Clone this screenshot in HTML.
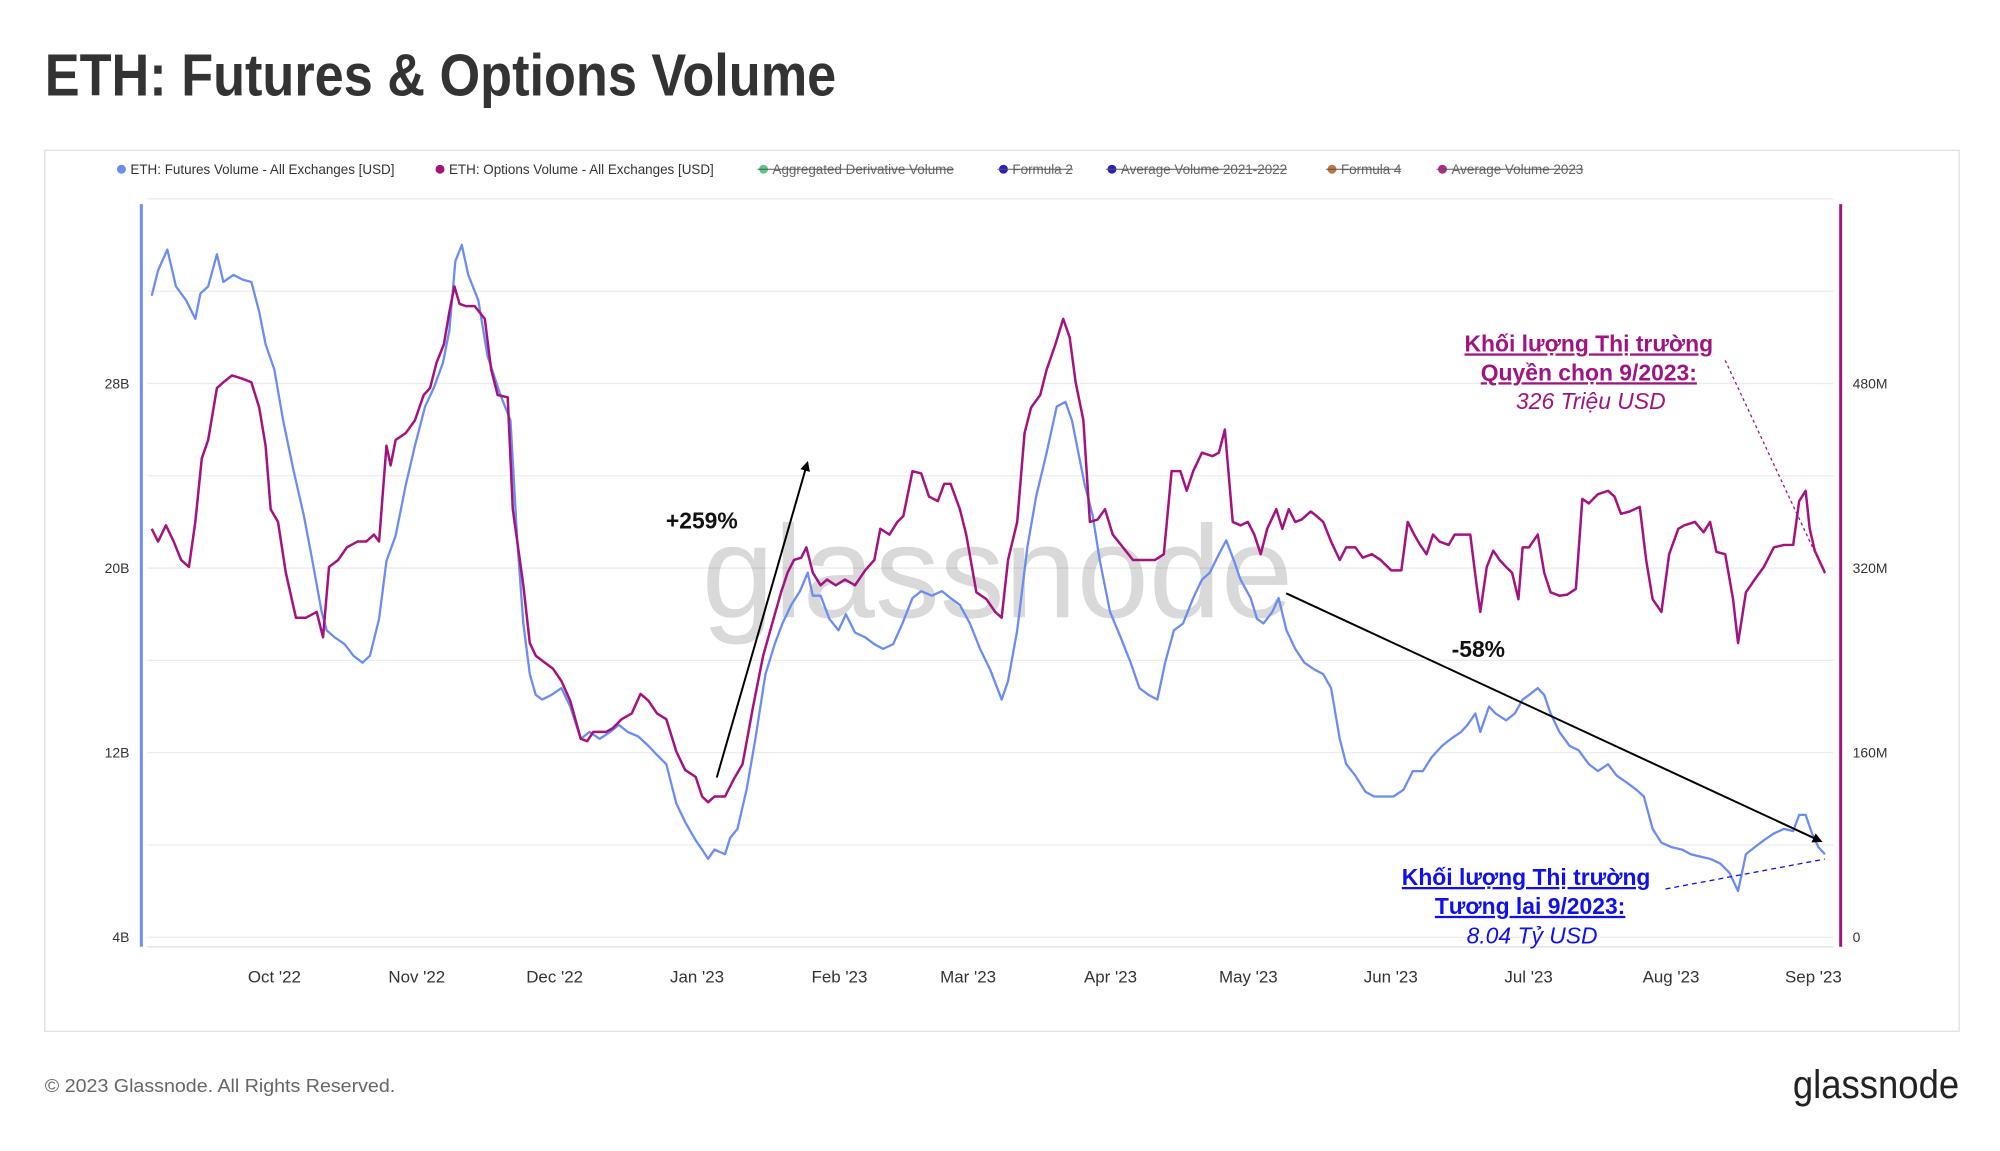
<!DOCTYPE html>
<html><head><meta charset="utf-8"><style>
html,body{margin:0;padding:0;background:#fff;}
svg{display:block;font-family:"Liberation Sans","Noto Sans CJK SC",sans-serif;}
</style></head><body>
<svg id="chart" width="2000" height="1151" viewBox="0 0 2000 1151" xmlns="http://www.w3.org/2000/svg">
<g transform="scale(0.9955)">
<text x="45" y="96" font-size="60" font-weight="bold" fill="#333" textLength="795" lengthAdjust="spacingAndGlyphs">ETH: Futures &amp; Options Volume</text>
<rect x="45" y="151" width="1923" height="885" fill="#fff" stroke="#e3e3e3" stroke-width="1.5"/>
<g id="legend" font-size="13.5" fill="#333"></g>
<g id="grid"></g>
<text x="705" y="620" font-size="132" fill="#000" fill-opacity="0.15" textLength="594" lengthAdjust="spacingAndGlyphs">glassnode</text>
<g id="axes"></g>
<g id="series"></g>
<g id="annot">
<defs><marker id="ah" markerWidth="10" markerHeight="10" refX="8" refY="5" orient="auto" markerUnits="userSpaceOnUse"><path d="M0,0 L10,5 L0,10 z" fill="#000"/></marker></defs>
<line x1="720" y1="781" x2="811" y2="465" stroke="#000" stroke-width="2" marker-end="url(#ah)"/>
<text x="705" y="531" font-size="23" font-weight="bold" text-anchor="middle" fill="#111">+259%</text>
<line x1="1292" y1="596" x2="1829" y2="845" stroke="#000" stroke-width="2" marker-end="url(#ah)"/>
<text x="1485" y="660" font-size="23" font-weight="bold" text-anchor="middle" fill="#111">-58%</text>
<line x1="1733" y1="362" x2="1833" y2="576" stroke="#a0147f" stroke-width="1.3" stroke-dasharray="3,3"/>
<g fill="#a0147f" font-size="23" text-anchor="middle">
<text x="1596" y="353" font-weight="bold" text-decoration="underline">Khối lượng Thị trường</text>
<text x="1596" y="382" font-weight="bold" text-decoration="underline">Quyền chọn 9/2023:</text>
<text x="1598" y="411" font-style="italic">326 Triệu USD</text>
</g>
<line x1="1673" y1="893" x2="1833" y2="863" stroke="#1010ee" stroke-width="1.3" stroke-dasharray="5,4"/>
<g fill="#1010ee" font-size="23" text-anchor="middle">
<text x="1533" y="889" font-weight="bold" text-decoration="underline">Khối lượng Thị trường</text>
<text x="1537" y="918" font-weight="bold" text-decoration="underline">Tương lai 9/2023:</text>
<text x="1539" y="948" font-style="italic">8.04 Tỷ USD</text>
</g>
</g>
<text x="45" y="1097" font-size="19" fill="#666" textLength="352" lengthAdjust="spacingAndGlyphs">© 2023 Glassnode. All Rights Reserved.</text>
<text x="1801" y="1103" font-size="40" fill="#222" textLength="167" lengthAdjust="spacingAndGlyphs">glassnode</text>
</g>
</svg>
<script>
const futDays=[-26.7,-25.3,-23.3,-21.4,-19.2,-17.2,-16.1,-14.4,-12.5,-11.1,-8.9,-6.9,-5.0,-3.3,-1.9,0,1.9,4.2,6.4,8.3,10.3,11.4,13.1,15.3,17.2,19.2,20.8,22.8,24.4,26.4,28.6,30.6,32.8,34.7,36.7,38.1,39.4,40.8,42.2,44.4,46.4,49.2,51.4,52.8,54.2,55.6,56.9,58.3,60.3,62.5,64.4,66.7,68.6,70.8,73.1,75.0,76.9,79.2,81.4,83.3,85.3,87.5,89.4,91.7,93.1,94.4,95.8,98.1,99.2,100.8,102.8,104.7,106.9,108.9,110.6,112.5,114.4,116.1,117.2,118.9,120.8,122.8,124.4,126.4,128.6,130.6,132.5,134.7,136.7,138.9,140.8,143.1,145.3,147.2,149.2,151.4,153.6,155.8,158.3,159.7,161.7,163.9,165.8,168.1,170.3,172.2,173.6,175.0,176.4,178.1,179.7,181.9,184.2,186.4,188.3,190.3,192.2,193.9,195.8,197.8,200.0,201.9,203.6,205.6,207.2,208.9,210.3,212.5,213.9,215.3,217.2,218.6,220.3,222.2,224.2,226.4,228.3,230.0,231.9,233.3,235.3,237.5,239.4,241.7,243.6,245.8,247.8,250.0,251.9,254.2,256.1,258.3,259.7,261.4,262.5,264.4,265.8,268.1,270.0,271.7,273.1,275.0,276.4,277.8,279.7,281.9,283.9,286.1,288.1,290.3,292.2,294.4,296.4,298.1,300.0,301.9,304.2,306.4,308.3,310.3,312.5,314.7,316.7,318.6,320.3,322.2,324.2,326.4,328.6,330.6,331.9,333.3,334.7,336.1,337.5];
const futVals=[31.8,32.9,33.8,32.2,31.6,30.8,31.9,32.2,33.6,32.4,32.7,32.5,32.4,31.1,29.7,28.6,26.4,24.2,22.3,20.3,18.1,17.3,17.0,16.7,16.2,15.9,16.2,17.8,20.3,21.4,23.6,25.3,27.0,27.8,28.9,30.3,33.3,34.0,32.7,31.6,29.2,27.5,26.4,21.4,17.6,15.4,14.5,14.3,14.5,14.8,14.0,12.6,12.9,12.6,12.9,13.2,12.9,12.7,12.3,11.9,11.5,9.8,9.0,8.2,7.8,7.4,7.8,7.6,8.3,8.7,10.4,12.6,15.4,16.7,17.6,18.4,19.0,19.8,18.8,18.8,17.8,17.3,18.0,17.2,17.0,16.7,16.5,16.7,17.6,18.7,19.0,18.8,19.0,18.7,18.4,17.6,16.5,15.6,14.3,15.1,17.3,20.9,23.1,25.0,27.0,27.2,26.4,25.0,23.6,22.3,20.3,18.1,17.0,15.9,14.8,14.5,14.3,15.9,17.3,17.6,18.7,19.5,19.8,20.6,21.2,20.3,19.5,18.7,17.8,17.6,18.1,18.7,17.3,16.5,15.9,15.6,15.4,14.8,12.6,11.5,11.0,10.3,10.1,10.1,10.1,10.4,11.2,11.2,11.8,12.3,12.6,12.9,13.2,13.7,12.9,14.0,13.7,13.4,13.7,14.3,14.5,14.8,14.5,13.7,12.9,12.3,12.1,11.5,11.2,11.5,11.0,10.7,10.4,10.1,8.7,8.1,7.9,7.8,7.6,7.5,7.4,7.2,6.8,6.0,7.6,7.9,8.2,8.5,8.7,8.6,9.3,9.3,8.5,7.9,7.6];
const optDays=[-26.7,-25.3,-23.6,-21.9,-20.3,-18.6,-17.2,-15.8,-14.4,-12.5,-11.1,-9.2,-6.9,-5.0,-3.3,-1.9,-0.8,0.8,2.5,4.7,6.9,9.2,10.6,11.9,13.9,15.8,18.1,20.0,21.7,22.8,24.4,25.3,26.4,28.6,30.6,32.5,33.9,35.3,36.9,38.1,39.2,40.3,41.7,43.6,45.8,47.2,48.6,50.8,51.9,54.2,55.6,56.9,58.9,60.6,62.5,64.4,66.7,68.1,69.4,72.2,73.6,75.6,77.8,79.7,81.4,83.3,85.3,87.5,89.4,91.7,93.1,94.4,95.8,98.1,100.0,101.9,104.2,106.4,108.3,110.3,111.7,113.1,114.7,115.8,117.2,118.9,120.3,122.2,124.2,126.4,128.6,130.6,131.9,133.9,135.6,136.9,138.9,140.8,142.5,144.4,145.8,147.2,149.2,150.6,152.8,155.0,156.9,158.3,159.7,161.7,163.3,164.7,166.7,168.1,170.0,171.7,173.1,174.4,176.1,177.5,179.2,180.8,182.5,184.7,186.9,189.2,191.7,193.6,195.3,197.2,198.6,200.0,201.9,204.2,205.6,206.9,208.6,210.3,211.9,213.3,214.7,216.1,218.1,219.4,220.8,222.2,223.6,225.6,226.9,228.3,230.0,231.9,233.3,235.3,236.9,238.9,240.8,243.1,245.3,246.7,248.1,249.4,250.8,252.2,253.6,255.6,256.9,258.9,260.3,261.7,262.5,263.9,265.3,266.7,268.1,269.4,270.8,271.7,273.1,275.0,276.4,277.8,279.7,281.4,283.3,284.7,286.1,288.1,290.3,291.7,293.1,295.0,297.2,298.6,300.0,301.9,303.6,305.6,306.9,309.2,311.1,312.5,313.9,315.8,317.5,318.6,320.3,322.2,324.2,326.4,328.6,330.6,331.9,333.3,334.2,335.3,337.5];
const optVals=[354,343,357,343,327,321,360,415,431,476,481,487,484,481,459,426,371,360,316,277,277,282,260,321,327,338,343,343,349,343,426,409,431,437,448,470,476,498,514,542,564,549,547,547,536,492,470,468,371,305,255,244,238,233,222,205,172,170,178,178,181,189,194,211,205,194,189,161,145,139,122,117,122,122,137,150,200,244,271,299,316,327,329,338,316,305,310,305,310,305,318,327,354,349,360,365,404,402,382,378,393,393,371,349,299,293,282,277,327,360,437,459,470,492,514,536,520,481,448,360,362,371,349,338,327,327,327,332,404,404,387,404,420,417,420,440,360,357,360,349,332,354,371,354,371,360,362,369,365,360,343,327,338,338,329,332,327,318,318,360,349,340,332,349,343,340,349,349,349,305,282,321,335,327,321,316,293,338,338,349,316,299,296,297,302,380,376,384,387,382,367,369,373,327,293,282,332,354,357,360,351,360,334,332,293,255,299,310,321,338,340,340,378,387,354,335,316];
const monthLabels=["Oct '22","Nov '22","Dec '22","Jan '23","Feb '23","Mar '23","Apr '23","May '23","Jun '23","Jul '23","Aug '23","Sep '23"];
const monthDays=[0,31,61,92,123,151,182,212,243,273,304,335];
const leftTicks=[4,12,20,28];
const leftTickLabels=["4B","12B","20B","28B"];
const gridVals=[4,8,12,16,20,24,28,32,36];
const rightTicks=[0,160,320,480];
const rightTickLabels=["0","160M","320M","480M"];
const legendNames=["ETH: Futures Volume - All Exchanges [USD]","ETH: Options Volume - All Exchanges [USD]","Aggregated Derivative Volume","Formula 2","Average Volume 2021-2022","Formula 4","Average Volume 2023"];
const legendColors=["#6b8cf0","#a3127f","#5cc98a","#2b1fc0","#2b1fc0","#c0773f","#b0278f"];
const legendX=[122,442,767,1008,1117,1338,1449];

const NS="http://www.w3.org/2000/svg";
function xS(d){return 275.6+4.615*d;}
function yL(v){return 941.5-(v-4)*23.18;}
function yR(m){return 941.5-m*1.159;}
function mk(tag,attrs,parent,text){const e=document.createElementNS(NS,tag);for(const k in attrs)e.setAttribute(k,attrs[k]);if(text!==undefined)e.textContent=text;parent.appendChild(e);return e;}

const grid=document.getElementById('grid');
gridVals.forEach(v=>{const l=mk('line',{x1:148,x2:1842,y1:yL(v),y2:yL(v),stroke:'#ececec','stroke-width':1.3},grid);

});

const axes=document.getElementById('axes');
let a=mk('line',{x1:148,x2:1842,y1:951,y2:951,stroke:'#e3e3e3','stroke-width':1.5},axes);


a=mk('line',{x1:142,x2:142,y1:205,y2:951,stroke:'#6f8ff0','stroke-width':3},axes);


a=mk('line',{x1:1849,x2:1849,y1:205,y2:951,stroke:'#a0167f','stroke-width':3},axes);


leftTicks.forEach((v,i)=>{const t=mk('text',{x:130,y:yL(v)+5,'font-size':14,fill:'#333','text-anchor':'end'},axes,leftTickLabels[i]);

});
rightTicks.forEach((v,i)=>{const t=mk('text',{x:1861,y:yR(v)+5,'font-size':14,fill:'#333'},axes,rightTickLabels[i]);

});
monthDays.forEach((d,i)=>{const t=mk('text',{x:xS(d),y:987,'font-size':17,fill:'#333','text-anchor':'middle'},axes,monthLabels[i]);

});

const leg=document.getElementById('legend');
legendNames.forEach((n,i)=>{const g=mk('g',{},leg);


mk('circle',{cx:legendX[i],cy:170,r:4.5,fill:legendColors[i]},g);
const t=mk('text',{x:legendX[i]+9,y:175,'font-size':13.5,fill:i<2?'#333':'#666'},g,n);
if(i>=2){const w=t.getComputedTextLength();mk('line',{x1:legendX[i]-6,x2:legendX[i]+9+w,y1:170,y2:170,stroke:'#555','stroke-width':1},g);}
});

const ser=document.getElementById('series');
function path(days,vals,yf){return days.map((d,i)=>(i?'L':'M')+xS(d).toFixed(1)+','+yf(vals[i]).toFixed(1)).join(' ');}
let p=mk('path',{d:path(futDays,futVals,yL),fill:'none',stroke:'#6b8cf0','stroke-width':2.3,'stroke-linejoin':'round'},ser);


p=mk('path',{d:path(optDays,optVals,yR),fill:'none',stroke:'#a3127f','stroke-width':2.5,'stroke-linejoin':'round'},ser);


</script>
</body></html>
